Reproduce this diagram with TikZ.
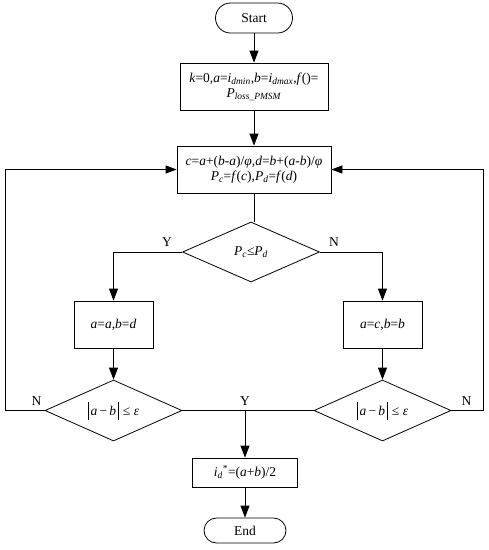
\documentclass[tikz,border=0pt]{standalone}
\usepackage{fontspec}
\setmainfont{Liberation Serif}
\usetikzlibrary{shapes.geometric,arrows.meta,calc}
\newcommand{\vb}{\rule[-4.5pt]{0.6pt}{18pt}}
\begin{document}
\begin{tikzpicture}[x=1pt,y=-1pt,
  every node/.style={font=\fontsize{13.5}{15}\selectfont},
  line/.style={line width=0.8pt},
  arr/.style={line width=0.8pt,-{Triangle[length=12pt,width=9pt]}},
  sarr/.style={line width=0.8pt,-{Triangle[length=11pt,width=8pt]}},
  procbox/.style={draw,line width=0.8pt,rectangle,inner sep=1pt,align=center},
  term/.style={draw,line width=0.8pt,rectangle,rounded corners=12pt,inner sep=1pt},
  decis/.style={draw,line width=0.8pt,diamond,aspect=2.3,inner sep=0pt},
  lbl/.style={inner sep=0pt}
]
\useasboundingbox (0,0) rectangle (489,550);
\node[term,minimum width=77pt,minimum height=30pt,rounded corners=15pt] (start) at (254,18) {Start};
\node[procbox,minimum width=148pt,minimum height=47pt] (b1) at (254,86.5)
  {\textit{k}=0,\textit{a}=\textit{i}\textsubscript{\textit{dmin}},\textit{b}=\textit{i}\textsubscript{\textit{dmax}},\textit{f}()=\\\textit{P}\textsubscript{\textit{loss\_PMSM}}};
\node[procbox,minimum width=154pt,minimum height=47pt] (b2) at (254,169.5)
  {\textit{c}=\textit{a}+(\textit{b}-\textit{a})/\textit{φ},\textit{d}=\textit{b}+(\textit{a}-\textit{b})/\textit{φ}\\\textit{P}\textsubscript{\textit{c}}=\textit{f}(\textit{c}),\textit{P}\textsubscript{\textit{d}}=\textit{f}(\textit{d})};
\node[decis,minimum width=137pt,minimum height=60pt] (d1) at (251,252)
  {\textit{P}\textsubscript{\textit{c}}≤\textit{P}\textsubscript{\textit{d}}};
\node[procbox,minimum width=79pt,minimum height=47pt] (b3) at (113.5,324.5)
  {\textit{a}=\textit{a},\textit{b}=\textit{d}};
\node[procbox,minimum width=79pt,minimum height=47pt] (b4) at (382.5,324.5)
  {\textit{a}=\textit{c},\textit{b}=\textit{b}};
\node[decis,minimum width=137pt,minimum height=61pt] (d2) at (113.5,410.5)
  {\vb\,\textit{a}\,−\,\textit{b}\,\vb\;≤\;\textit{ε}};
\node[decis,minimum width=137pt,minimum height=61pt] (d3) at (382.5,410.5)
  {\vb\,\textit{a}\,−\,\textit{b}\,\vb\;≤\;\textit{ε}};
\coordinate (j) at (245,410.5);
\node[procbox,minimum width=105pt,minimum height=29pt] (b5) at (245,472.5)
  {\textit{i}\textsubscript{\textit{d}}\textsuperscript{*}=(\textit{a}+\textit{b})/2};
\node[term,minimum width=82pt,minimum height=25pt,rounded corners=12.5pt] (end) at (245,530.5) {End};

\draw[arr] (start.south) -- (b1.north);
\draw[arr] (b1.south) -- (b2.north);
\draw[line] (b2.south) -- (b2.south |- d1.north);
\draw[arr] (d1.west) -| (b3.north);
\draw[arr] (d1.east) -| (b4.north);
\draw[arr] (b3.south) -- (d2.north);
\draw[arr] (b4.south) -- (d3.north);
\draw[sarr] (d2.west) -- (5,410.5) |- (b2.west);
\draw[sarr] (d3.east) -- (483,410.5) |- (b2.east);
\draw[line] (d2.east) -- (d3.west);
\draw[arr] (j) -- (b5.north);
\draw[arr] (b5.south) -- (end.north);

\node[lbl] (ly1) at ($(d1.west)+(-15,-10)$) {Y};
\node[lbl] (ln1) at ($(d1.east)+(14,-10)$) {N};
\node[lbl] (ln2) at ($(d2.west)+(-8,-9)$) {N};
\node[lbl] (ly2) at ($(j)+(0,-9)$) {Y};
\node[lbl] (ln3) at ($(d3.east)+(15,-9)$) {N};
\end{tikzpicture}
\end{document}
